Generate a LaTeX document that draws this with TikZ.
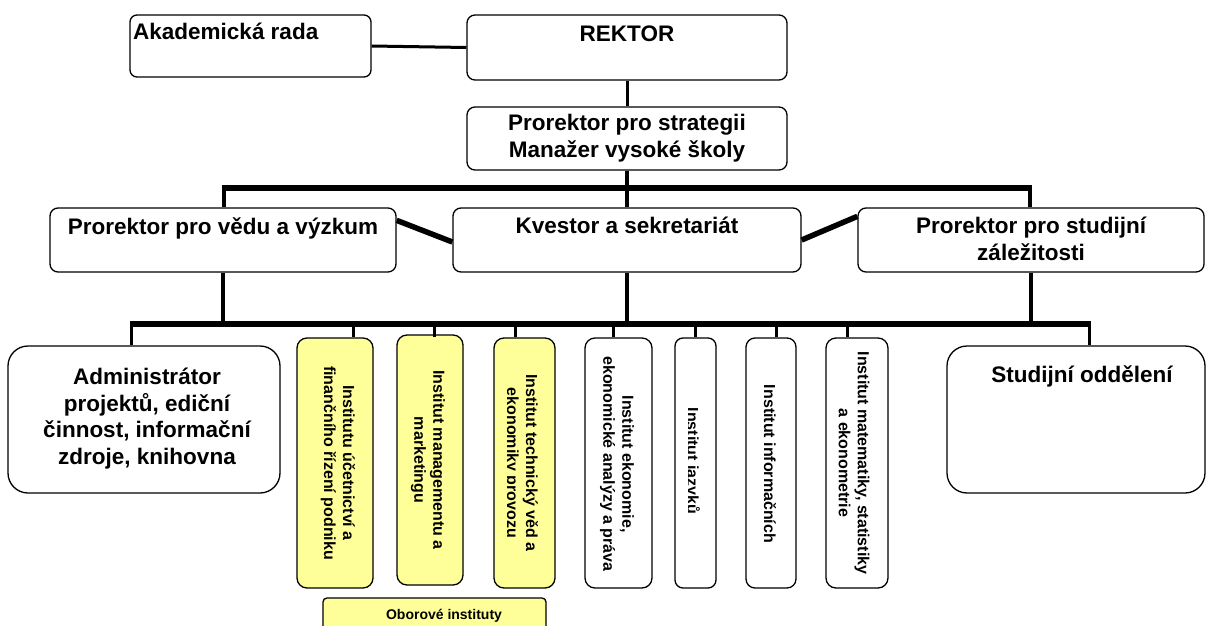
\documentclass[tikz,border=0pt]{standalone}
\usepackage{fontspec}
\setmainfont{Liberation Sans}
\usetikzlibrary{fit,calc}
\definecolor{instyellow}{RGB}{255,255,153}
\begin{document}
\begin{tikzpicture}[x=1pt,y=-1pt,
  box/.style={draw, line width=1.3pt, inner sep=0pt, rounded corners=8pt, fill=white},
  ybox/.style={box, fill=instyellow, rounded corners=10pt},
  big/.style={font=\bfseries\fontsize{22.5}{26.5}\selectfont, inner sep=0pt, align=center},
  rot/.style={font=\bfseries\fontsize{16}{19}\selectfont, inner sep=0pt, align=center, rotate=-90},
  small/.style={font=\bfseries\fontsize{14}{16}\selectfont, inner sep=0pt},
  thin/.style={line width=3pt},
  conn/.style={line width=3.5pt},
  bar/.style={line width=5.5pt},
]
\useasboundingbox (0,0) rectangle (1210,626);

% top level
\node[box, rounded corners=7pt, fit={(130,15)(371,77)}] (akad) {};
\node[big, anchor=base west] (akadt) at (133,40) {Akademická rada};
\node[box, fit={(467,15)(787,80)}] (rektor) {};
\node[big, anchor=base] (rektort) at (627,42) {REKTOR};
\node[box, fit={(467,107)(787,170)}] (strat) {};
\node[big, anchor=base] (stratt) at (627,157) {Prorektor pro strategii\\Manažer vysoké školy};

% second level
\node[box, fit={(50,208)(396,272)}] (pvv) {};
\node[big, anchor=base] (pvvt) at (223,234) {Prorektor pro vědu a výzkum};
\node[box, fit={(453,208)(801,272)}] (kvestor) {};
\node[big, anchor=base] (kvestort) at (627,233) {Kvestor a sekretariát};
\node[box, fit={(858,208)(1204,272)}] (pstud) {};
\node[big, anchor=base] (pstudt) at (1031,260) {Prorektor pro studijní\\záležitosti};

% third level
\node[box, rounded corners=20pt, fit={(8,346)(280,493)}] (admin) {};
\node[big, anchor=base] (admint) at (147,464) {Administrátor\\projektů, ediční\\činnost, informační\\zdroje, knihovna};
\node[box, rounded corners=20pt, fit={(947,346)(1205,493)}] (stud) {};
\node[big, anchor=base] (studt) at (1082,382) {Studijní oddělení};

\node[ybox, fit={(297,338)(373,588)}] (y1) {};
\node[rot] (y1t) at (338,463) {Institutu účetnictví a\\finančního řízení podniku};
\node[ybox, fit={(397,335)(463,585)}] (y2) {};
\node[rot] (y2t) at (428,460) {Institut managementu a\\marketingu};
\node[ybox, fit={(494,338)(555,588)}] (y3) {};
\begin{scope}
  \clip (507,340) rectangle (553,586);
  \node[rot] (y3t) at (521,463) {Institut technický věd a\\ekonomiky provozu};
\end{scope}

\node[box, rounded corners=10pt, fit={(585,338)(652,588)}] (ekon) {};
\node[rot] (ekont) at (617,464) {Institut ekonomie,\\ekonomické analýzy a práva};
\node[box, rounded corners=8pt, fit={(675,338)(716,588)}] (jaz) {};
\begin{scope}
  \clip (688,340) rectangle (714,586);
  \node[rot] (jazt) at (692,461) {Institut jazyků};
\end{scope}
\node[box, rounded corners=9pt, fit={(746,338)(796,588)}] (inf) {};
\node[rot] (inft) at (770,464) {Institut informačních};
\node[box, rounded corners=10pt, fit={(826,338)(888,588)}] (mat) {};
\node[rot] (matt) at (854,463) {Institut matematiky, statistiky\\a ekonometrie};

\node[ybox, rounded corners=4pt, fit={(323,598)(546,640)}] (obor) {};
\node[small, anchor=base] (obort) at (444,619) {Oborové instituty};

% connectors top
\draw[thin] (akad.east) -- (rektor.west);
\draw[thin] (rektor.south) -- (strat.north);

% upper bar
\coordinate (b1L) at (224,188);
\coordinate (b1M) at (627,188);
\coordinate (b1R) at (1030,188);
\draw[bar] ([xshift=-1.75pt]b1L) -- ([xshift=1.75pt]b1R);
\draw[conn] (strat.south) -- (b1M);
\draw[conn] (b1L) -- (b1L |- pvv.north);
\draw[conn] (b1M) -- (kvestor.north);
\draw[conn] (b1R) -- (b1R |- pstud.north);

% diagonals
\draw[bar] ([yshift=-13pt]pvv.north east) -- ([yshift=-2pt]kvestor.west);
\draw[bar] (kvestor.east) -- ([yshift=-9pt]pstud.north west);

% lower bar
\coordinate (b2L) at (131,324);
\coordinate (b2R) at (1089,324);
\draw[bar, line width=6pt] ([xshift=-1.5pt]b2L) -- ([xshift=1.5pt]b2R);
\draw[conn] (pvv.south) -- (pvv.south |- b2L);
\draw[conn] (kvestor.south) -- (kvestor.south |- b2L);
\draw[conn] (pstud.south) -- (pstud.south |- b2L);

\draw[thin] (b2L) -- (b2L |- admin.north);
\draw[thin] (b2R) -- (b2R |- stud.north);
\coordinate (d1) at (353,324);
\coordinate (d2) at (434,324);
\coordinate (d3) at (515,324);
\coordinate (d4) at (613,324);
\coordinate (d5) at (695,324);
\coordinate (d6) at (776,324);
\coordinate (d7) at (847,324);
\draw[thin] (d1) -- (d1 |- y1.north);
\draw[thin] (d2) -- ([yshift=-3pt]d2 |- y2.north);
\draw[thin] (d3) -- (d3 |- y3.north);
\draw[thin] (d4) -- (d4 |- ekon.north);
\draw[thin] (d5) -- (d5 |- jaz.north);
\draw[thin] (d6) -- (d6 |- inf.north);
\draw[thin] (d7) -- (d7 |- mat.north);
\end{tikzpicture}
\end{document}
